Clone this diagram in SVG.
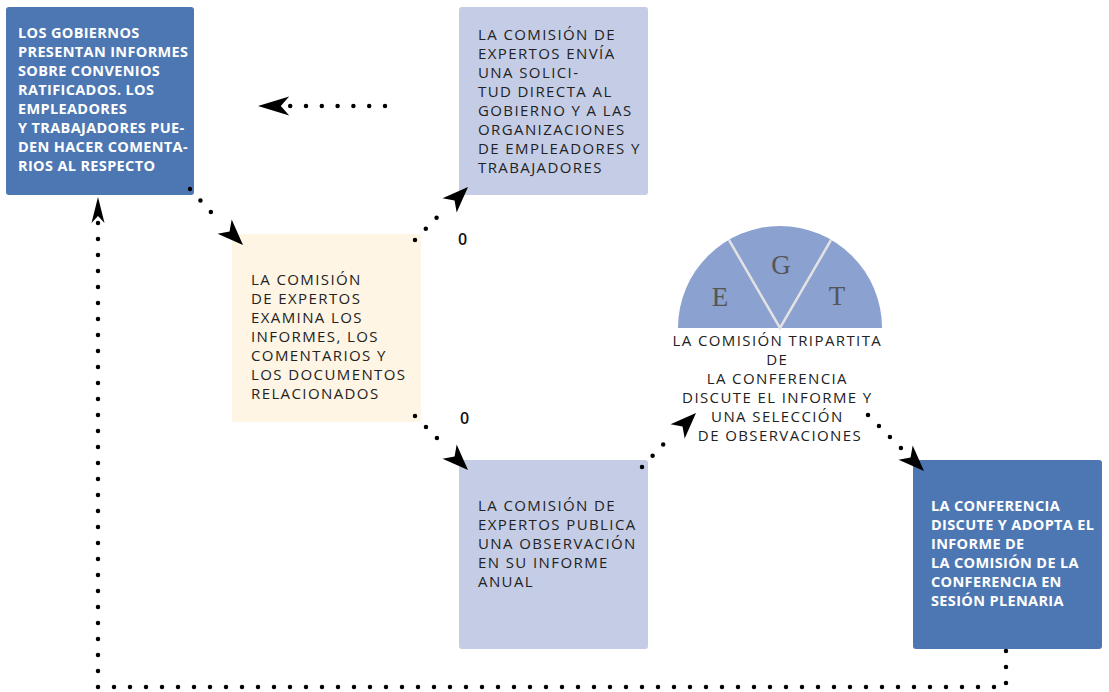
<svg xmlns="http://www.w3.org/2000/svg" width="1109" height="692" viewBox="0 0 1109 692">
<style>
.dk{fill:#4d77b3}
.lb{fill:#c5cde6}
.cr{fill:#fef5e4}
.tw{font-family:"Open Sans","Noto Sans",sans-serif;font-size:14.5px;font-weight:bold;fill:#ffffff;letter-spacing:0.35px}
.tb{font-family:"Open Sans","Noto Sans",sans-serif;font-size:15px;fill:#222222;letter-spacing:1.4px}
.dot{fill:none;stroke:#000;stroke-width:4.5;stroke-linecap:round;stroke-dasharray:0 15.5}
.ah{fill:#000}
.egt{font-family:"Liberation Serif",serif;font-size:27px;fill:#555555;text-anchor:middle}
.zero{font-family:"Open Sans","Noto Sans",sans-serif;font-size:16px;font-weight:600;fill:#111}
</style>
<defs>
<path id="ah" d="M0,0 L-26,-10 L-19,0 L-26,10 Z"/>
</defs>
<rect width="1109" height="692" fill="#ffffff"/>

<g id="node-gobiernos">
<rect class="dk" x="6" y="7" width="188" height="188" rx="3"/>
<text class="tw">
<tspan x="18" y="38">LOS GOBIERNOS</tspan>
<tspan x="18" y="57">PRESENTAN INFORMES</tspan>
<tspan x="18" y="76">SOBRE CONVENIOS</tspan>
<tspan x="18" y="95">RATIFICADOS. LOS</tspan>
<tspan x="18" y="114">EMPLEADORES</tspan>
<tspan x="18" y="133">Y TRABAJADORES PUE-</tspan>
<tspan x="18" y="152">DEN HACER COMENTA-</tspan>
<tspan x="18" y="171">RIOS AL RESPECTO</tspan>
</text>
</g>

<g id="node-examina">
<rect class="cr" x="232" y="234" width="189" height="188" rx="3"/>
<text class="tb">
<tspan x="251" y="285">LA COMISIÓN</tspan>
<tspan x="251" y="304">DE EXPERTOS</tspan>
<tspan x="251" y="323">EXAMINA LOS</tspan>
<tspan x="251" y="342">INFORMES, LOS</tspan>
<tspan x="251" y="361">COMENTARIOS Y</tspan>
<tspan x="251" y="380">LOS DOCUMENTOS</tspan>
<tspan x="251" y="399">RELACIONADOS</tspan>
</text>
</g>

<g id="node-solicitud">
<rect class="lb" x="459" y="7" width="189" height="188" rx="3"/>
<text class="tb">
<tspan x="478" y="40">LA COMISIÓN DE</tspan>
<tspan x="478" y="59">EXPERTOS ENVÍA</tspan>
<tspan x="478" y="78">UNA SOLICI-</tspan>
<tspan x="478" y="97">TUD DIRECTA AL</tspan>
<tspan x="478" y="116">GOBIERNO Y A LAS</tspan>
<tspan x="478" y="135">ORGANIZACIONES</tspan>
<tspan x="478" y="154">DE EMPLEADORES Y</tspan>
<tspan x="478" y="173">TRABAJADORES</tspan>
</text>
</g>

<g id="node-observacion">
<rect class="lb" x="459" y="460" width="189" height="189" rx="3"/>
<text class="tb">
<tspan x="478" y="511">LA COMISIÓN DE</tspan>
<tspan x="478" y="530">EXPERTOS PUBLICA</tspan>
<tspan x="478" y="549">UNA OBSERVACIÓN</tspan>
<tspan x="478" y="568">EN SU INFORME</tspan>
<tspan x="478" y="587">ANUAL</tspan>
</text>
</g>

<g id="node-tripartita">
<path d="M678,328 A102,102 0 0 1 882,328 Z" fill="#8ba1cf"/>
<path d="M729,240 L780,328 L831,240" fill="none" stroke="#e2e2e2" stroke-width="2.5"/>
<text class="egt" x="720" y="306">E</text>
<text class="egt" x="781" y="274">G</text>
<text class="egt" x="837" y="305">T</text>
<text class="tb" text-anchor="middle">
<tspan x="780" y="346">LA COMISIÓN TRIPARTITA</tspan>
<tspan x="780" y="365">DE</tspan>
<tspan x="780" y="384">LA CONFERENCIA</tspan>
<tspan x="780" y="403">DISCUTE EL INFORME Y</tspan>
<tspan x="780" y="422">UNA SELECCIÓN</tspan>
<tspan x="780" y="441">DE OBSERVACIONES</tspan>
</text>
</g>

<g id="node-plenaria">
<rect class="dk" x="913" y="460" width="189" height="189" rx="3"/>
<text class="tw">
<tspan x="931" y="511">LA CONFERENCIA</tspan>
<tspan x="931" y="530">DISCUTE Y ADOPTA EL</tspan>
<tspan x="931" y="549">INFORME DE</tspan>
<tspan x="931" y="568">LA COMISIÓN DE LA</tspan>
<tspan x="931" y="587">CONFERENCIA EN</tspan>
<tspan x="931" y="606">SESIÓN PLENARIA</tspan>
</text>
</g>

<g id="connectors">
<path class="dot" style="stroke-dasharray:0 15.8" d="M385,106 L290,106"/>
<use href="#ah" class="ah" transform="translate(258,106) rotate(180) scale(1.2,0.95)"/>

<path class="dot" d="M190,189 L220,222"/>
<use href="#ah" class="ah" transform="translate(243,245) rotate(45)"/>

<path class="dot" d="M415,240 L447,207"/>
<use href="#ah" class="ah" transform="translate(468,187) rotate(-45)"/>

<path class="dot" d="M415,416 L447,448"/>
<use href="#ah" class="ah" transform="translate(468,470) rotate(45)"/>

<path class="dot" d="M642,467 L673,434"/>
<use href="#ah" class="ah" transform="translate(696,413) rotate(-45)"/>

<path class="dot" d="M868,415 L901,448"/>
<use href="#ah" class="ah" transform="translate(924,471) rotate(45)"/>

<path class="dot" style="stroke-dasharray:0 16" d="M98,223 L98,687 L1006,687 L1006,643"/>
<use href="#ah" class="ah" transform="translate(98,197) rotate(-90) scale(1,0.65)"/>

<text class="zero" x="458" y="245">0</text>
<text class="zero" x="460" y="424">0</text>
</g>
</svg>
